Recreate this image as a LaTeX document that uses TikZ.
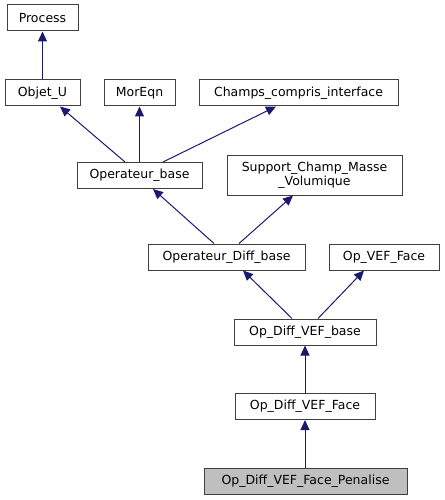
\documentclass[tikz,border=0pt]{standalone}
\usepackage{fontspec}
\setmainfont{DejaVu Sans}
\usetikzlibrary{arrows.meta}
\definecolor{edgeblue}{HTML}{191970}
\definecolor{boxline}{HTML}{404040}
\definecolor{hilite}{HTML}{BFBFBF}
\begin{document}
\begin{tikzpicture}[x=1pt,y=-1pt,
  cls/.style={draw=boxline,line width=1pt,fill=white,inner sep=0pt,minimum height=26pt,
    font=\fontsize{12.5}{14}\selectfont,align=center},
  edge/.style={draw=edgeblue,line width=1pt,-{Triangle[length=10pt,width=9pt]}}]
\useasboundingbox (0,0) rectangle (444,500);
\node[cls,minimum width=71pt] (pr) at (42.5,18) {Process};
\node[cls,minimum width=75pt] (ou) at (42.5,93) {Objet\_U};
\node[cls,minimum width=71pt] (me) at (139.5,93) {MorEqn};
\node[cls,minimum width=199pt] (ch) at (298.5,93) {Champs\_compris\_interface};
\node[cls,minimum width=125pt] (ob) at (139.5,175.5) {Operateur\_base};
\node[cls,minimum width=175pt,minimum height=40pt] (su) at (314.5,175) {Support\_Champ\_Masse\\\_Volumique};
\node[cls,minimum width=157pt] (odb) at (226.5,257) {Operateur\_Diff\_base};
\node[cls,minimum width=110pt] (vf) at (384,257) {Op\_VEF\_Face};
\node[cls,minimum width=142pt] (dvb) at (305,332) {Op\_Diff\_VEF\_base};
\node[cls,minimum width=140pt] (dvf) at (305,406.5) {Op\_Diff\_VEF\_Face};
\node[cls,minimum width=203pt,fill=hilite] (pen) at (305.5,481) {Op\_Diff\_VEF\_Face\_Penalise};
\draw[edge] (ou.north) -- (pr.south);
\draw[edge] ([xshift=-14.5pt]ob.north) -- ([xshift=17.5pt]ou.south);
\draw[edge] (ob.north) -- (me.south);
\draw[edge] ([xshift=23.5pt]ob.north) -- ([xshift=-22.5pt]ch.south);
\draw[edge] ([xshift=-12.5pt]odb.north) -- ([xshift=13.5pt]ob.south);
\draw[edge] ([xshift=12.5pt]odb.north) -- ([xshift=-21.5pt]su.south);
\draw[edge] ([xshift=-13pt]dvb.north) -- ([xshift=16.5pt]odb.south);
\draw[edge] ([xshift=13pt]dvb.north) -- ([xshift=-20pt]vf.south);
\draw[edge] (dvf.north) -- (dvb.south);
\draw[edge] ([xshift=-0.5pt]pen.north) -- (dvf.south);
\end{tikzpicture}
\end{document}
